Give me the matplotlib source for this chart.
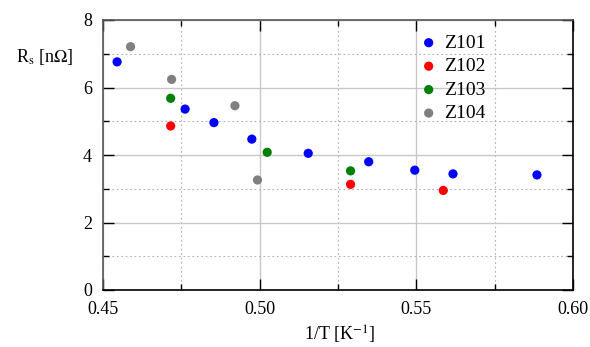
import matplotlib
matplotlib.use("Agg")
import matplotlib.pyplot as plt
from matplotlib.ticker import MultipleLocator

plt.rcParams['font.family'] = ['Liberation Serif', 'DejaVu Serif']
plt.rcParams['mathtext.fontset'] = 'stix'

z101_x = [0.4545, 0.4762, 0.4854, 0.4975, 0.5155, 0.5348, 0.5495, 0.5617, 0.5885]
z101_y = [6.76, 5.36, 4.96, 4.47, 4.05, 3.80, 3.55, 3.44, 3.41]
z102_x = [0.4716, 0.5290, 0.5586]
z102_y = [4.86, 3.13, 2.95]
z103_x = [0.4716, 0.5024, 0.5290]
z103_y = [5.68, 4.08, 3.53]
z104_x = [0.4588, 0.4719, 0.4921, 0.4993]
z104_y = [7.21, 6.24, 5.46, 3.26]

series = [("Z101", z101_x, z101_y, "#0000ff"),
          ("Z102", z102_x, z102_y, "#ff0000"),
          ("Z103", z103_x, z103_y, "#008000"),
          ("Z104", z104_x, z104_y, "#808080")]

fig = plt.figure(figsize=(5.9, 3.47), dpi=100)
ax = fig.add_axes([103/590, 1-290/347, 470/590, 270/347])

for name, xs, ys, c in series:
    ax.scatter(xs, ys, s=44, color=c, label=name, zorder=3, edgecolors='none')

ax.set_xlim(0.45, 0.60)
ax.set_ylim(0, 8)
ax.xaxis.set_major_locator(MultipleLocator(0.05))
ax.xaxis.set_minor_locator(MultipleLocator(0.025))
ax.yaxis.set_major_locator(MultipleLocator(2))
ax.yaxis.set_minor_locator(MultipleLocator(1))
ax.set_xticks([0.45, 0.50, 0.55, 0.60])
ax.set_xticklabels(["0.45", "0.50", "0.55", "0.60"])

ax.grid(which='major', color='#c8c8c8', linewidth=1.0, linestyle='-')
ax.grid(which='minor', color='#b0b0b0', linewidth=0.8, linestyle=(0, (1.5, 2.5)))
ax.set_axisbelow(True)

ax.tick_params(which='both', direction='in', top=True, right=True, labelsize=13, pad=8)
ax.tick_params(which='major', length=8, width=1)
ax.tick_params(which='minor', length=4, width=1)
for s in ax.spines.values():
    s.set_linewidth(1.2)
ax.spines['top'].set_color('#555555')
ax.spines['left'].set_color('#555555')

fig.text(45/590, 1-57/347, r"R$_{\mathrm{s}}$ [n$\Omega$]", fontsize=13, ha='center', va='center')
fig.text(340/590, 1-335/347, r"1/T [K$^{\mathrm{-1}}$]", fontsize=13, ha='center', va='center')

leg = ax.legend(loc='upper left', bbox_to_anchor=(0.635, 1.005), frameon=False,
                fontsize=14, handletextpad=0.2, labelspacing=0.3, borderpad=0.3,
                handlelength=1.2, markerscale=1.0)

fig.savefig("out.png", dpi=100)
